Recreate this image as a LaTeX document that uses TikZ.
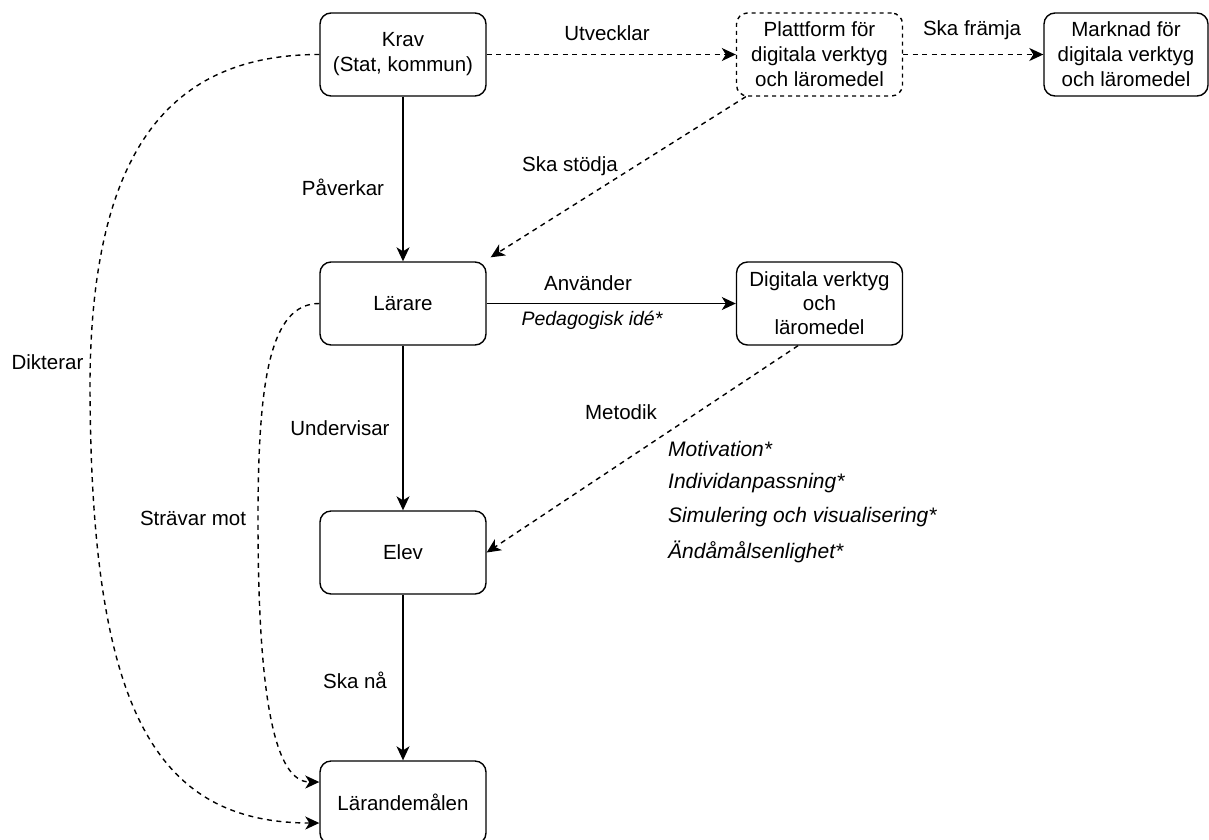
\documentclass[tikz,border=0pt]{standalone}
\usepackage{fontspec}
\setmainfont{Liberation Sans}
\usetikzlibrary{arrows.meta,calc}
\begin{document}
\begin{tikzpicture}[x=1pt,y=-1pt, font=\fontsize{20.5}{25}\selectfont,
 box/.style={draw, line width=1.4pt, rounded corners=11pt, minimum width=166pt, minimum height=83pt, inner sep=0pt, align=center},
 dbox/.style={box, dash pattern=on 4pt off 4pt},
 conn/.style={line width=1.4pt, -{Stealth[length=14pt,width=13pt,inset=4pt]}},
 dconn/.style={conn, dash pattern=on 5pt off 4.5pt},
 lbl/.style={inner sep=0pt, anchor=center},
 ilbl/.style={inner sep=0pt, font=\fontsize{21}{25}\selectfont\itshape}]
\useasboundingbox (0,0) rectangle (1209,839);

\node[box]  (krav) at (403,54.5)   {Krav\\(Stat, kommun)};
\node[dbox] (plat) at (819.5,54.5) {Plattform för\\digitala verktyg\\och läromedel};
\node[box, minimum width=164pt] (mark) at (1126,54.5) {Marknad för\\digitala verktyg\\och läromedel};
\node[box]  (lar)  at (403,303.5)  {Lärare};
\node[box, font=\fontsize{20.5}{24}\selectfont]  (dig)  at (819.5,303.5) {Digitala verktyg\\och\\läromedel};
\node[box]  (elev) at (403,552.5)  {Elev};
\node[box]  (lm)   at (403,802.5)  {Lärandemålen};

\draw[dconn] (krav.east) -- (plat.west);
\draw[dconn] (plat.east) -- (mark.west);
\draw[conn] (krav.south) -- (lar.north);
\draw[dconn] ([xshift=10pt]plat.south west) -- ([xshift=4pt,yshift=4pt]lar.north east);
\draw[conn] (lar.east) -- (dig.west);
\draw[conn] (lar.south) -- (elev.north);
\draw[dconn] ([xshift=-21.5pt]dig.south) -- (elev.east);
\draw[conn] (elev.south) -- (lm.north);
\draw[dconn] (krav.west) .. controls (170,54.5) and (92,150) .. (90,380)
   .. controls (90,700) and (150,823) .. ([yshift=-20.5pt]lm.west);
\draw[dconn] (lar.west) .. controls (270,303.5) and (258,380) .. (258,520)
   .. controls (258,700) and (275,782) .. ([yshift=20.5pt]lm.west);

\node[lbl] (l1) at (607,33) {Utvecklar};
\node[lbl] (l2) at (972,30) {Ska främja};
\node[lbl] (l3) at (343,187) {Påverkar};
\node[lbl] (l4) at (570,166) {Ska stödja};
\node[lbl] (l5) at (588,283) {Använder};
\node[ilbl, font=\fontsize{19.5}{24}\selectfont\itshape] (l6) at (592,320) {Pedagogisk idé*};
\node[lbl] (l7) at (621,412) {Metodik};
\node[lbl] (l8) at (340,428) {Undervisar};
\node[lbl] (l9) at (47.5,362) {Dikterar};
\node[lbl] (l10) at (193,518) {Strävar mot};
\node[lbl] (l11) at (355,680) {Ska nå};
\node[ilbl, anchor=west] (m1) at (668,449) {Motivation*};
\node[ilbl, anchor=west] (m2) at (668,483) {Individanpassning*};
\node[ilbl, anchor=west] (m3) at (668,517) {Simulering och visualisering*};
\node[ilbl, anchor=west] (m4) at (668,552) {Ändåmålsenlighet*};
\end{tikzpicture}
\end{document}
